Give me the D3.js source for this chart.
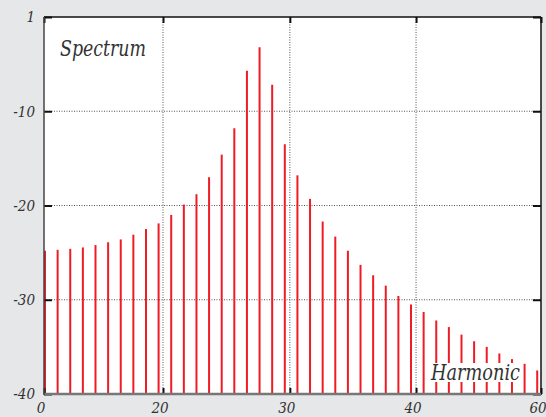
<!DOCTYPE html>
<html>
    <head>
        <title>Spectrum</title>
        <meta charset="UTF-8">
        <script type="text/javascript" src="https://cdn.jsdelivr.net/npm/d3@7"></script>
        <style type="text/css">
            body { margin: 0; background: #e6e7e9; }
            svg text { font-family: "DejaVu Serif Condensed", "DejaVu Serif", serif; font-style: italic; fill: #333; }
        </style>
    </head>
    <body>
        <div id="chart"></div>

        <script type="text/javascript">

            var svgW = 546; //svg width
            var svgH = 417; //svg height
            var plotL = 44, plotR = 541, plotT = 17, plotB = 394;

            //level of each harmonic, in dB
            var levels = [
                -24.8, -24.7, -24.6, -24.45, -24.2, -23.9, -23.6, -23.1, -22.5, -21.9,
                -21.0, -19.9, -18.8, -17.0, -14.6, -11.8, -5.7, -3.2, -7.2, -13.5,
                -16.8, -19.3, -21.7, -23.3, -24.8, -26.3, -27.4, -28.5, -29.6, -30.5,
                -31.3, -32.2, -32.9, -33.7, -34.4, -35.0, -35.7, -36.3, -36.8, -37.5
            ];

            //tick positions (in harmonic index units) and their labels
            var xTickValues = [-0.08, 9.35, 19.4, 29.4, 39.3];
            var xTickLabels = ["0", "20", "30", "40", "60"];
            var xGridValues = [9.35, 19.4, 29.4];

            var yTickValues = [0, -10, -20, -30, -40];
            var yTickLabels = ["1", "-10", "-20", "-30", "-40"];
            var yGridValues = [-10, -20, -30];

            var x = d3.scaleLinear().domain([-0.08, 39.3]).range([plotL, plotR]);
            var y = d3.scaleLinear().domain([-40, 0]).range([plotB, plotT]);

            var svg = d3.select("#chart").append("svg")
                    .attr("width", svgW)
                    .attr("height", svgH);

            svg.append("rect")
                    .attr("x", plotL).attr("y", plotT)
                    .attr("width", plotR - plotL).attr("height", plotB - plotT)
                    .attr("fill", "white");

            // grid lines
            svg.append("g").selectAll("line")
                    .data(xGridValues).enter().append("line")
                    .attr("x1", function (d) { return x(d); })
                    .attr("x2", function (d) { return x(d); })
                    .attr("y1", plotT).attr("y2", plotB)
                    .attr("stroke", "#555").attr("stroke-width", 1)
                    .attr("stroke-dasharray", "1,1.5");
            svg.append("g").selectAll("line")
                    .data(yGridValues).enter().append("line")
                    .attr("x1", plotL).attr("x2", plotR)
                    .attr("y1", function (d) { return y(d); })
                    .attr("y2", function (d) { return y(d); })
                    .attr("stroke", "#555").attr("stroke-width", 1)
                    .attr("stroke-dasharray", "1,1.5");

            // bars
            svg.append("g").selectAll("line")
                    .data(levels).enter().append("line")
                    .attr("x1", function (d, i) { return x(i); })
                    .attr("x2", function (d, i) { return x(i); })
                    .attr("y1", y(-40))
                    .attr("y2", function (d) { return y(d); })
                    .attr("stroke", "#ee1c25")
                    .attr("stroke-width", 2);

            // titles
            svg.append("text")
                    .attr("x", 60).attr("y", 56)
                    .attr("font-size", 22)
                    .attr("textLength", 86)
                    .attr("lengthAdjust", "spacingAndGlyphs")
                    .text("Spectrum");

            var hx = 431, hy = 380;
            var hbox = svg.append("rect").attr("fill", "white");
            var harm = svg.append("text")
                    .attr("x", hx).attr("y", hy)
                    .attr("font-size", 23)
                    .attr("textLength", 89)
                    .attr("lengthAdjust", "spacingAndGlyphs")
                    .text("Harmonic");
            hbox.attr("x", hx - 1).attr("y", hy - 17)
                    .attr("width", 91).attr("height", 19);

            // axes: inner ticks
            var yl = svg.append("g").attr("transform", "translate(" + plotL + ",0)")
                    .call(d3.axisRight(y).tickValues(yTickValues).tickSize(8).tickFormat(""));
            var yr = svg.append("g").attr("transform", "translate(" + plotR + ",0)")
                    .call(d3.axisLeft(y).tickValues(yTickValues).tickSize(8).tickFormat(""));
            var xt = svg.append("g").attr("transform", "translate(0," + plotT + ")")
                    .call(d3.axisBottom(x).tickValues(xTickValues).tickSize(6).tickFormat(""));
            var xb = svg.append("g").attr("transform", "translate(0," + plotB + ")")
                    .call(d3.axisTop(x).tickValues(xTickValues).tickSize(6).tickFormat(""));
            [yl, yr, xt, xb].forEach(function (g) {
                g.select(".domain").remove();
                g.selectAll(".tick line").attr("stroke", "#111").attr("stroke-width", 2);
            });

            // tick labels
            svg.append("g").selectAll("text")
                    .data(yTickValues).enter().append("text")
                    .attr("x", 35)
                    .attr("y", function (d) { return y(d); })
                    .attr("dy", "0.36em")
                    .attr("text-anchor", "end")
                    .attr("font-size", 15)
                    .text(function (d, i) { return yTickLabels[i]; });
            svg.append("g").selectAll("text")
                    .data(xTickValues).enter().append("text")
                    .attr("x", function (d) { return x(d) - 3; })
                    .attr("y", 413)
                    .attr("text-anchor", "middle")
                    .attr("font-size", 15)
                    .text(function (d, i) { return xTickLabels[i]; });

            // frame
            var frame = [
                {x1: plotL, y1: plotT, x2: plotR, y2: plotT, c: "#111", w: 1.5},
                {x1: plotR, y1: plotT, x2: plotR, y2: plotB + 1, c: "#111", w: 1.5},
                {x1: plotL, y1: plotB, x2: plotR, y2: plotB, c: "#777", w: 2.5},
                {x1: plotL, y1: plotT, x2: plotL, y2: plotB + 1, c: "#444", w: 1.5}
            ];
            svg.append("g").selectAll("line")
                    .data(frame).enter().append("line")
                    .attr("x1", function (d) { return d.x1; })
                    .attr("y1", function (d) { return d.y1; })
                    .attr("x2", function (d) { return d.x2; })
                    .attr("y2", function (d) { return d.y2; })
                    .attr("stroke", function (d) { return d.c; })
                    .attr("stroke-width", function (d) { return d.w; });
        </script>

    </body>
</html>
